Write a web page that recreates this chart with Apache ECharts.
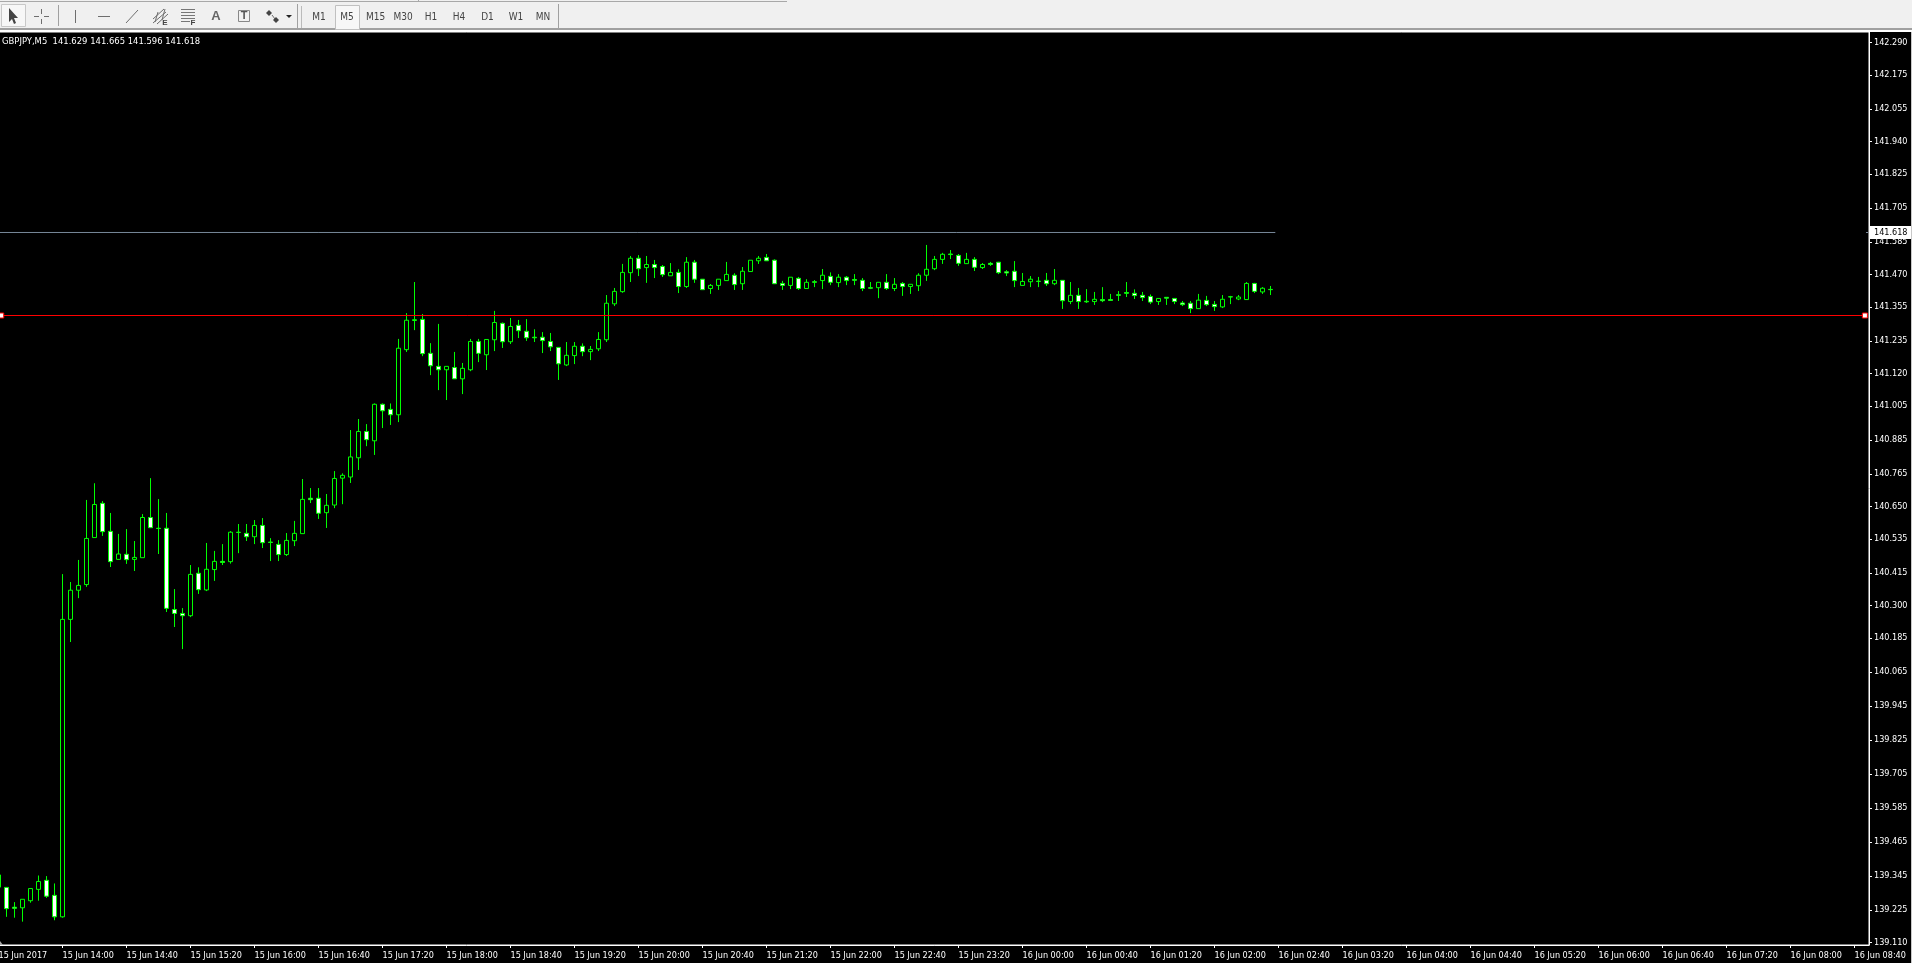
<!DOCTYPE html>
<html>
<head>
<meta charset="utf-8">
<title>GBPJPY,M5</title>
<script src="https://cdn.jsdelivr.net/npm/echarts@6/dist/echarts.min.js"></script>
<style>
html,body{margin:0;padding:0;background:#000;overflow:hidden}
#chart{width:1912px;height:963px}
</style>
</head>
<body>
<div id="chart"></div>
<script>
// 5 minute bars, first one is 15 Jun 13:25
var opens = [
139.305,139.304,139.234,139.232,139.257,139.297,139.329,139.276,139.200,140.251,
140.354,140.374,140.540,140.661,140.562,140.463,140.481,140.463,140.469,140.611,
140.573,140.573,140.286,140.272,140.264,140.414,140.355,140.427,140.456,140.455,
140.558,140.555,140.543,140.583,140.524,140.516,140.480,140.529,140.554,140.679,
140.679,140.628,140.655,140.750,140.754,140.822,140.915,140.882,141.011,140.993,
140.974,141.204,141.307,141.311,141.191,141.145,141.133,141.141,141.101,141.133,
141.233,141.186,141.239,141.297,141.232,141.290,141.269,141.248,141.248,141.233,
141.212,141.150,141.183,141.216,141.197,141.207,141.239,141.366,141.409,141.476,
141.527,141.494,141.505,141.498,141.465,141.477,141.427,141.513,141.453,141.420,
141.431,141.448,141.467,141.437,141.480,141.518,141.530,141.520,141.438,141.431,
141.456,141.420,141.444,141.448,141.463,141.441,141.460,141.452,141.449,141.423,
141.423,141.442,141.420,141.438,141.427,141.430,141.467,141.490,141.523,141.542,
141.537,141.508,141.523,141.494,141.509,141.513,141.479,141.481,141.431,141.444,
141.446,141.449,141.437,141.449,141.374,141.396,141.375,141.374,141.381,141.381,
141.398,141.406,141.403,141.396,141.392,141.374,141.389,141.385,141.369,141.368,
141.349,141.378,141.364,141.355,141.391,141.383,141.381,141.438,141.408,141.417];
var closes = [
139.348,139.229,139.230,139.262,139.300,139.325,139.273,139.200,140.251,140.354,
140.371,140.537,140.657,140.561,140.455,140.482,140.462,140.470,140.611,140.575,
140.572,140.290,140.272,140.264,140.410,140.356,140.428,140.456,140.452,140.559,
140.559,140.543,140.583,140.522,140.523,140.480,140.530,140.555,140.675,140.674,
140.626,140.654,140.749,140.760,140.825,140.915,140.886,141.011,140.988,140.974,
141.209,141.308,141.310,141.190,141.147,141.133,141.145,141.101,141.138,141.233,
141.191,141.240,141.300,141.232,141.286,141.271,141.246,141.246,141.236,141.214,
141.154,141.184,141.216,141.197,141.205,141.240,141.368,141.410,141.477,141.527,
141.490,141.505,141.494,141.469,141.477,141.427,141.513,141.453,141.416,141.431,
141.453,141.470,141.434,141.481,141.520,141.527,141.518,141.437,141.431,141.460,
141.420,141.442,141.442,141.467,141.442,141.460,141.448,141.449,141.420,141.421,
141.442,141.420,141.435,141.427,141.435,141.467,141.488,141.523,141.541,141.540,
141.509,141.523,141.495,141.505,141.505,141.476,141.475,141.448,141.445,141.453,
141.445,141.437,141.449,141.377,141.396,141.374,141.373,141.382,141.377,141.378,
141.396,141.403,141.395,141.388,141.372,141.385,141.386,141.374,141.363,141.349,
141.379,141.363,141.356,141.382,141.390,141.390,141.438,141.410,141.421,141.416];
var highs = [
139.360,139.304,139.252,139.262,139.300,139.346,139.344,139.318,140.411,140.383,
140.461,140.673,140.732,140.669,140.627,140.553,140.570,140.528,140.623,140.750,
140.676,140.627,140.358,140.291,140.443,140.435,140.521,140.493,140.517,140.563,
140.588,140.588,140.602,140.609,140.538,140.531,140.556,140.599,140.747,140.715,
140.715,140.694,140.775,140.767,140.920,140.959,140.941,141.014,141.014,141.014,
141.242,141.333,141.443,141.330,141.227,141.295,141.145,141.196,141.157,141.242,
141.242,141.240,141.341,141.300,141.316,141.309,141.312,141.276,141.266,141.263,
141.212,141.231,141.231,141.226,141.217,141.266,141.397,141.422,141.507,141.535,
141.538,141.535,141.521,141.503,141.510,141.488,141.531,141.521,141.453,141.436,
141.453,141.514,141.474,141.496,141.520,141.535,141.542,141.523,141.447,141.460,
141.461,141.453,141.450,141.489,141.477,141.471,141.464,141.471,141.457,141.443,
141.442,141.471,141.457,141.443,141.435,141.474,141.574,141.535,141.546,141.556,
141.542,141.546,141.531,141.510,141.514,141.514,141.485,141.517,141.475,141.464,
141.461,141.475,141.489,141.449,141.443,141.422,141.418,141.408,141.425,141.401,
141.411,141.443,141.417,141.408,141.399,141.385,141.390,141.385,141.376,141.376,
141.401,141.394,141.376,141.397,141.394,141.397,141.443,141.440,141.425,141.429];
var lows = [
139.290,139.200,139.197,139.183,139.250,139.257,139.267,139.188,139.197,140.171,
140.326,140.366,140.540,140.546,140.436,140.463,140.447,140.422,140.469,140.575,
140.482,140.277,140.224,140.146,140.259,140.341,140.351,140.387,140.443,140.448,
140.485,140.528,140.517,140.503,140.457,140.457,140.475,140.510,140.554,140.662,
140.606,140.574,140.644,140.658,140.733,140.779,140.863,140.832,140.927,140.938,
140.948,141.196,141.273,141.181,141.114,141.061,141.026,141.101,141.047,141.128,
141.160,141.132,141.199,141.210,141.224,141.245,141.235,141.231,141.192,141.199,
141.097,141.146,141.153,141.181,141.167,141.199,141.231,141.358,141.405,141.443,
141.464,141.440,141.457,141.461,141.465,141.404,141.422,141.440,141.416,141.401,
141.415,141.448,141.415,141.415,141.480,141.507,141.518,141.437,141.415,141.418,
141.415,141.420,141.425,141.418,141.432,141.425,141.432,141.432,141.411,141.418,
141.386,141.415,141.411,141.394,141.401,141.411,141.447,141.485,141.507,141.524,
141.500,141.508,141.482,141.489,141.500,141.471,141.464,141.425,141.431,141.425,
141.425,141.429,141.432,141.348,141.365,141.348,141.369,141.362,141.372,141.376,
141.376,141.390,141.383,141.376,141.365,141.362,141.362,141.365,141.358,141.333,
141.348,141.358,141.341,141.351,141.365,141.379,141.381,141.404,141.401,141.397];

var priceTicks = [142.290,142.175,142.055,141.940,141.825,141.705,141.585,141.470,141.355,141.235,141.120,141.005,140.885,140.765,
    140.650,140.535,140.415,140.300,140.185,140.065,139.945,139.825,139.705,139.585,139.465,139.345,139.225,139.110];
var timeTicks = [0,8,16,24,32,40,48,56,64,72,80,88,96,104,112,120,128,136,144,152,160,168,176,184,192,200,208,216,224,232];
var timeLabels = ['15 Jun 2017','15 Jun 14:00','15 Jun 14:40','15 Jun 15:20','15 Jun 16:00','15 Jun 16:40','15 Jun 17:20','15 Jun 18:00',
    '15 Jun 18:40','15 Jun 19:20','15 Jun 20:00','15 Jun 20:40','15 Jun 21:20','15 Jun 22:00','15 Jun 22:40','15 Jun 23:20',
    '16 Jun 00:00','16 Jun 00:40','16 Jun 01:20','16 Jun 02:00','16 Jun 02:40','16 Jun 03:20','16 Jun 04:00','16 Jun 04:40',
    '16 Jun 05:20','16 Jun 06:00','16 Jun 06:40','16 Jun 07:20','16 Jun 08:00','16 Jun 08:40'];
var bidPrice = 141.618;
var levelPrice = 141.3247;
var headerText = 'GBPJPY,M5  141.629 141.665 141.596 141.618';
var periods = ['M1','M5','M15','M30','H1','H4','D1','W1','MN'];

var labelFont = '"DejaVu Sans Condensed","Liberation Sans",sans-serif';
var xMin = -0.5625, xMax = 233.8125;

var bars = [];
for (var i = 0; i < opens.length; i++) {
    bars.push([i, opens[i], closes[i], lows[i], highs[i]]);
}

var chart = echarts.init(document.getElementById('chart'), null, {renderer: 'canvas'});

var option = {
    animation: false,
    backgroundColor: '#000',
    title: {
        text: headerText,
        left: 2, top: 37, padding: 0,
        textStyle: {color: '#fff', fontSize: 9.4, fontWeight: 'normal', fontFamily: labelFont}
    },
    grid: {
        show: true,
        outerBoundsMode: 'none',
        left: -6, top: 32, width: 1875, height: 913,
        backgroundColor: '#000',
        borderColor: '#fff',
        borderWidth: 1
    },
    xAxis: {
        type: 'value',
        min: xMin, max: xMax,
        splitLine: {show: false},
        axisLine: {onZero: false, lineStyle: {color: '#fff'}},
        axisTick: {customValues: timeTicks, length: 3, lineStyle: {color: '#fff'}},
        axisLabel: {
            customValues: timeTicks,
            color: '#fff',
            fontFamily: labelFont,
            fontSize: 9,
            align: 'left',
            margin: 6,
            formatter: function (v) { return timeLabels[timeTicks.indexOf(v)]; }
        }
    },
    yAxis: {
        type: 'value',
        position: 'right',
        min: 139.1005, max: 142.3264,
        splitLine: {show: false},
        axisLine: {show: true, onZero: false, lineStyle: {color: '#fff'}},
        axisTick: {show: true, customValues: priceTicks, length: 3, lineStyle: {color: '#fff'}},
        axisLabel: {
            customValues: priceTicks,
            color: '#fff',
            fontFamily: labelFont,
            fontSize: 9,
            margin: 5,
            padding: [2, 0, 0, 0],
            formatter: function (v) { return v.toFixed(3); }
        }
    },
    series: [
        {
            type: 'candlestick',
            data: bars,
            encode: {x: 0, y: [1, 2, 3, 4]},
            barWidth: 5,
            itemStyle: {
                color: '#000',
                color0: '#fff',
                borderColor: '#00ff00',
                borderColor0: '#00ff00',
                borderColorDoji: '#00ff00',
                borderWidth: 1
            }
        },
        {
            type: 'line',
            data: [[xMin, bidPrice], [159.6, bidPrice]],
            symbol: 'none',
            lineStyle: {color: '#778899', width: 1}
        },
        {
            type: 'line',
            data: [[0.34, levelPrice], [233.3, levelPrice]],
            symbol: 'rect',
            symbolSize: 5,
            itemStyle: {color: '#fff', borderColor: '#ff0000', borderWidth: 1},
            lineStyle: {color: '#ff0000', width: 1}
        },
        {
            // red level runs to the left window edge behind its handle
            type: 'line',
            data: [[xMin, levelPrice], [0.34, levelPrice]],
            symbol: 'none',
            lineStyle: {color: '#ff0000', width: 1}
        }
    ]
};
chart.setOption(option);

// toolbar + bid price tag
var uiFont = '10px "DejaVu Sans Condensed","Liberation Sans",sans-serif';
var gray = '#6e6e6e';
function rect(x, y, w, h, fill, stroke) {
    return {type: 'rect', z: 50, shape: {x: x, y: y, width: w, height: h}, style: {fill: fill || 'none', stroke: stroke || 'none', lineWidth: 1}};
}
function seg(x1, y1, x2, y2, color) {
    return {type: 'line', z: 51, shape: {x1: x1, y1: y1, x2: x2, y2: y2}, style: {stroke: color || gray, lineWidth: 1}};
}
function poly(points, fill) {
    return {type: 'polygon', z: 51, shape: {points: points}, style: {fill: fill}};
}
function label(text, x, y, font, color) {
    return {type: 'text', z: 52, style: {text: text, x: x, y: y, font: font || uiFont, fill: color || '#444', align: 'center', verticalAlign: 'middle'}};
}

var ui = [
    rect(0, 0, 1912, 28, '#f0f0f0'),
    rect(0, 28, 1912, 2, '#a0a0a0'),
    rect(0, 30, 1912, 2, '#fff'),
    rect(0, 1, 787, 1, '#a8a8a8'),
    rect(418, 0, 1, 1, '#a8a8a8'),
    rect(1.5, 4.5, 24, 22, '#f7f7f7', '#c8c8c8'),
    poly([[9, 8], [9, 22], [12, 19], [14, 24], [16, 23], [14, 18], [18, 18]], '#444'),
    seg(34, 16.5, 39, 16.5), seg(44, 16.5, 49, 16.5), seg(41.5, 9, 41.5, 14), seg(41.5, 19, 41.5, 24),
    seg(58.5, 5, 58.5, 26, '#a0a0a0'),
    seg(75.5, 10, 75.5, 23),
    seg(98, 16.5, 110, 16.5),
    seg(126, 23, 138, 10),
    seg(153, 19, 164, 9), seg(153, 23, 166, 12), seg(157, 24, 168, 14), seg(158, 12, 155, 22), seg(165, 9, 162, 20),
    label('E', 165, 23, 'bold 8px "Liberation Sans"'),
    seg(181, 9.5, 195, 9.5, '#777'), seg(181, 12.5, 195, 12.5, '#777'), seg(181, 15.5, 195, 15.5, '#777'), seg(181, 18.5, 195, 18.5, '#777'), seg(181, 21.5, 190, 21.5, '#777'),
    label('F', 193, 23, 'bold 8px "Liberation Sans"'),
    label('A', 216, 16, 'bold 13px "Liberation Sans"', '#666'),
    rect(238.5, 10.5, 11, 11, 'none', '#888'),
    label('T', 244, 16, 'bold 11px "Liberation Sans"', '#555'),
    poly([[269, 10], [272, 13], [269, 16], [266, 13]], '#444'),
    seg(272, 15, 275, 19), poly([[276, 17], [279, 20], [276, 23], [273, 20]], '#444'),
    poly([[286, 15], [292, 15], [289, 18]], '#222'),
    seg(297.5, 4, 297.5, 28, '#a0a0a0'),
    seg(301.5, 6, 301.5, 28, '#bbb'),
    rect(335.5, 5.5, 24, 24, '#f7f7f7', '#c0c0c0'),
    seg(558.5, 4, 558.5, 28, '#a0a0a0'),
    rect(1911, 32, 1, 931, '#c8c8c8'),
    poly([[0, 941], [3, 945], [0, 945]], '#aaa')
];
var periodX = [319, 347, 375.5, 403, 431, 459, 487.5, 516, 543];
for (var p = 0; p < periods.length; p++) {
    ui.push(label(periods[p], periodX[p], 17));
}

var bidY = chart.convertToPixel({yAxisIndex: 0}, bidPrice);
ui.push(rect(1870, Math.round(bidY) - 6, 41, 13, '#fff'));
ui.push(seg(1866, Math.floor(bidY) + 0.5, 1868, Math.floor(bidY) + 0.5, '#778899'));
ui.push({type: 'text', z: 52, style: {text: bidPrice.toFixed(3), x: 1874, y: Math.round(bidY) + 1, font: '9px ' + labelFont, fill: '#000', verticalAlign: 'middle'}});
chart.setOption({graphic: ui});
</script>
</body>
</html>
